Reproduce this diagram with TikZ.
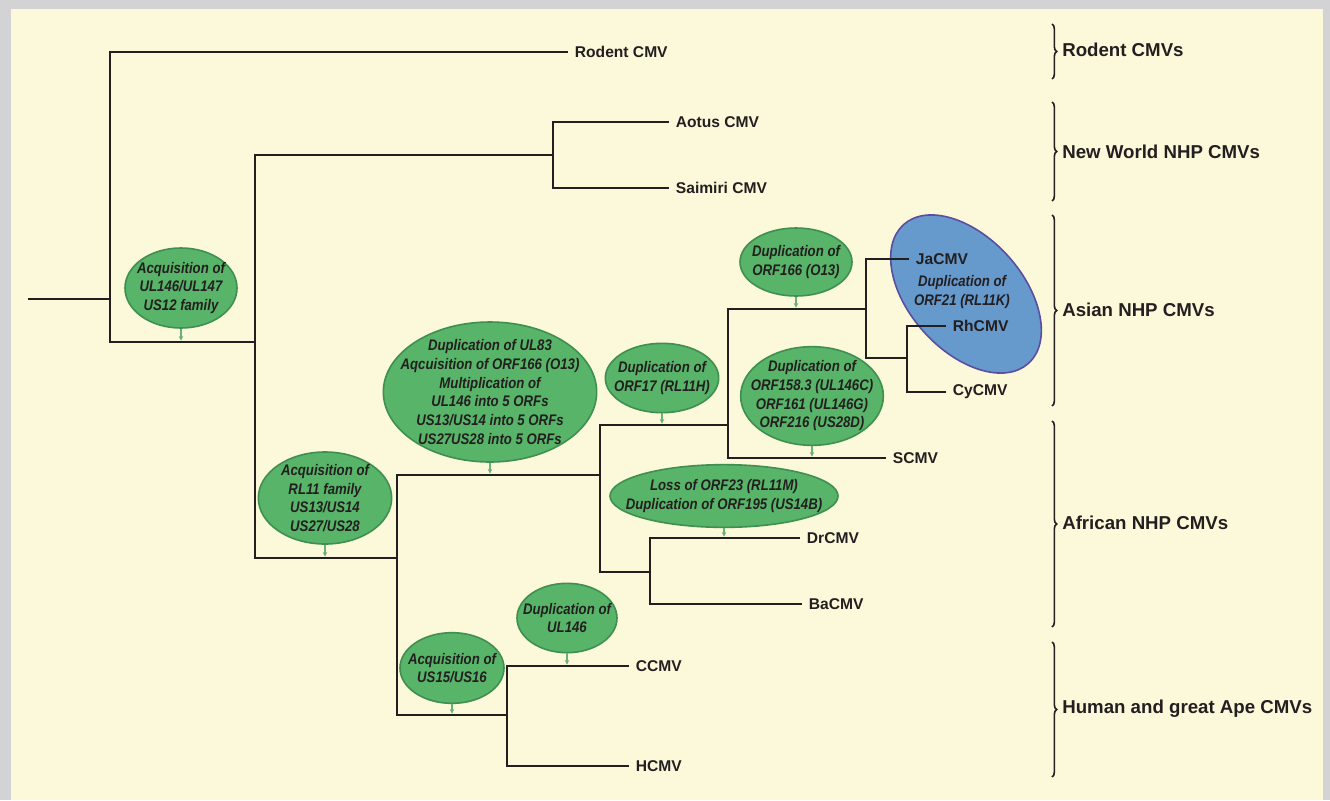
\documentclass[tikz,border=0pt]{standalone}
\usepackage{fontspec}
\setmainfont{Liberation Sans}
\newfontfamily\narrowfont[FakeStretch=0.86]{Liberation Sans}
\usetikzlibrary{shapes.geometric,arrows.meta,decorations.pathreplacing}
\definecolor{cream}{HTML}{FCF8DA}
\definecolor{framegray}{HTML}{D3D3D5}
\definecolor{evfill}{HTML}{58B468}
\definecolor{evline}{HTML}{3F8F50}
\definecolor{evarrow}{HTML}{6BAF7A}
\definecolor{bluefill}{HTML}{6699CC}
\definecolor{blueline}{HTML}{5B4EA0}
\definecolor{ink}{HTML}{231F20}
\tikzset{
  branch/.style={draw=ink, line width=2.2pt},
  leaf/.style={anchor=west, inner xsep=5pt, inner ysep=0pt, text=ink,
    font=\bfseries\fontsize{11.7}{14}\selectfont},
  event/.style={ellipse, draw=evline, fill=evfill, line width=1.2pt, inner sep=-60pt,
    align=center, text=ink, font=\narrowfont\bfseries\itshape\fontsize{11.5}{14}\selectfont},
  evmark/.style={draw=evarrow, line width=1pt, -{Stealth[length=3.5pt,width=3.5pt]}, shorten >=1pt},
  group/.style={anchor=west, inner sep=0pt, text=ink, font=\bfseries\fontsize{14}{16}\selectfont},
  bracket/.style={draw=ink, line width=1.2pt, decorate, decoration={brace, amplitude=3.5pt}}
}
\begin{document}
\begin{tikzpicture}[x=0.75pt, y=-0.75pt]
  \useasboundingbox (0,0) rectangle (1330,800);
  \fill[framegray] (0,0) rectangle (1330,800);
  \fill[cream] (11,9) rectangle (1323,800);
  %[blue clade oval]
  \node[ellipse, draw=blueline, fill=bluefill, line width=1.2pt, inner sep=0pt,
    minimum width=140pt, minimum height=85pt, rotate=-48] (jaoval) at (966,294) {};
  \node[align=center, text=ink, font=\narrowfont\bfseries\itshape\fontsize{11.5}{14}\selectfont]
    (jatext) at (962,292) {Duplication of\\ORF21 (RL11K)};

  \coordinate (root) at (28,299);
  \coordinate (n1) at (110,299);
  \coordinate (n2) at (255,342);
  \coordinate (n3) at (553,155);
  \coordinate (n4) at (397,558);
  \coordinate (n5) at (600,475);
  \coordinate (n6) at (728,425);
  \coordinate (n7) at (866,309);
  \coordinate (n8) at (907,358);
  \coordinate (n9) at (650,572);
  \coordinate (n10) at (507,715);

  \node[leaf] (rodent) at (568,52) {Rodent CMV};
  \node[leaf] (aotus) at (669,122) {Aotus CMV};
  \node[leaf] (saimiri) at (669,188) {Saimiri CMV};
  \node[leaf] (jacmv) at (909,259) {JaCMV};
  \node[leaf] (rhcmv) at (946,326) {RhCMV};
  \node[leaf] (cycmv) at (946,392) {CyCMV};
  \node[leaf] (scmv) at (886,458) {SCMV};
  \node[leaf] (drcmv) at (800,538) {DrCMV};
  \node[leaf] (bacmv) at (802,604) {BaCMV};
  \node[leaf] (ccmv) at (629,666) {CCMV};
  \node[leaf] (hcmv) at (629,766) {HCMV};

  \node[event, minimum width=84pt, minimum height=60pt] (acq1) at (181,288)
    {Acquisition of\\UL146/UL147\\US12 family};
  \node[event, minimum width=100pt, minimum height=69pt] (acq2) at (325,498)
    {Acquisition of\\RL11 family\\US13/US14\\US27/US28};
  \node[event, minimum width=160pt, minimum height=105pt] (dup83) at (490,392)
    {Duplication of UL83\\Aqcuisition of ORF166 (O13)\\Multiplication of\\UL146 into 5 ORFs\\US13/US14 into 5 ORFs\\US27US28 into 5 ORFs};
  \node[event, minimum width=85pt, minimum height=52pt] (dup17) at (662,378)
    {Duplication of\\ORF17 (RL11H)};
  \node[event, minimum width=84pt, minimum height=51pt] (dup166) at (796,262)
    {Duplication of\\ORF166 (O13)};
  \node[event, minimum width=107pt, minimum height=74pt] (dup158) at (812,396)
    {Duplication of\\ORF158.3 (UL146C)\\ORF161 (UL146G)\\ORF216 (US28D)};
  \node[event, minimum width=171pt, minimum height=47pt] (loss23) at (724,496)
    {Loss of ORF23 (RL11M)\\Duplication of ORF195 (US14B)};
  \node[event, minimum width=78pt, minimum height=53pt] (acq15) at (452,668)
    {Acquisition of\\US15/US16};
  \node[event, minimum width=75pt, minimum height=52pt] (dup146) at (567,618)
    {Duplication of\\UL146};

  \draw[evmark] (acq1.south) -- (acq1.south |- n2);
  \draw[evmark] (acq2.south) -- (acq2.south |- n4);
  \draw[evmark] (dup83.south) -- (dup83.south |- n5);
  \draw[evmark] (dup17.south) -- (dup17.south |- n6);
  \draw[evmark] (dup166.south) -- (dup166.south |- n7);
  \draw[evmark] (dup158.south) -- (dup158.south |- scmv.west);
  \draw[evmark] (loss23.south) -- (loss23.south |- drcmv.west);
  \draw[evmark] (acq15.south) -- (acq15.south |- n10);
  \draw[evmark] (dup146.south) -- (dup146.south |- ccmv.west);

  \draw[branch] (root) -- (n1) |- (rodent);
  \draw[branch] (n1) |- (n2) |- (n3);
  \draw[branch] (n2) |- (n4);
  \draw[branch] (n3) |- (aotus) (n3) |- (saimiri);
  \draw[branch] (n4) |- (n5) (n4) |- (n10);
  \draw[branch] (n5) |- (n6) (n5) |- (n9);
  \draw[branch] (n6) |- (n7) (n6) |- (scmv);
  \draw[branch] (n7) |- (jacmv) (n7) |- (n8);
  \draw[branch] (n8) |- (rhcmv) (n8) |- (cycmv);
  \draw[branch] (n9) |- (drcmv) (n9) |- (bacmv);
  \draw[branch] (n10) |- (ccmv) (n10) |- (hcmv);

  \draw[bracket] (1052,24) -- (1052,79);
  \draw[bracket] (1052,102) -- (1052,201);
  \draw[bracket] (1052,215) -- (1052,406);
  \draw[bracket] (1052,421) -- (1052,627);
  \draw[bracket] (1052,642) -- (1052,777);
  \node[group] (grodent) at (1062,50) {Rodent CMVs};
  \node[group] (gnew) at (1062,152) {New World NHP CMVs};
  \node[group] (gasia) at (1062,310) {Asian NHP CMVs};
  \node[group] (gafrica) at (1062,523) {African NHP CMVs};
  \node[group] (gape) at (1062,709) {Human and great Ape CMVs};
\end{tikzpicture}
\end{document}
